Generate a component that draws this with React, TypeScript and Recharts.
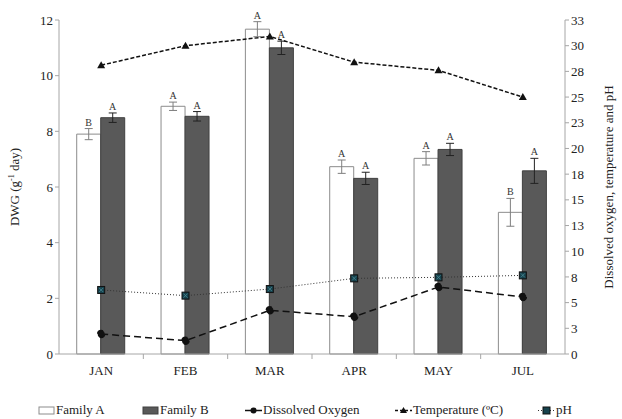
import React from 'react'
import {
  ComposedChart,
  Bar,
  Line,
  XAxis,
  YAxis,
  ErrorBar,
  LabelList,
} from 'recharts'

const months = ['JAN', 'FEB', 'MAR', 'APR', 'MAY', 'JUL']
const familyA = [7.9, 8.9, 11.67, 6.73, 7.03, 5.09]
const familyAErr = [0.2, 0.15, 0.27, 0.24, 0.24, 0.5]
const familyALetters = ['B', 'A', 'A', 'A', 'A', 'B']
const familyB = [8.49, 8.54, 11.0, 6.31, 7.35, 6.58]
const familyBErr = [0.17, 0.17, 0.24, 0.22, 0.22, 0.45]
const familyBLetters = ['A', 'A', 'A', 'A', 'A', 'A']
const dissolvedOxygen = [1.95, 1.3, 4.25, 3.63, 6.52, 5.55]
const temperature = [28.1, 30.0, 30.9, 28.4, 27.6, 25.0]
const ph = [6.23, 5.68, 6.32, 7.36, 7.46, 7.65]

const leftTicks = [0, 2, 4, 6, 8, 10, 12]
const rightTicks = [0, 2.5, 5, 7.5, 10, 12.5, 15, 17.5, 20, 22.5, 25, 27.5, 30, 32.5]

const data = months.map((m, i) => ({
  month: m,
  a: familyA[i],
  aErr: familyAErr[i],
  aLetter: familyALetters[i],
  b: familyB[i],
  bErr: familyBErr[i],
  bLetter: familyBLetters[i],
  oxygen: dissolvedOxygen[i],
  temp: temperature[i],
  ph: ph[i],
}))

const FONT = 'Liberation Serif, Times New Roman, Tinos, DejaVu Serif, serif'
const AXIS = '#a6a6a6'
const W = 622
const H = 419
const M = { top: 20, right: 0, left: 0, bottom: 35 }
const LEFT_W = 59
const RIGHT_W = 57
const band = (W - LEFT_W - RIGHT_W) / months.length

function XTick(props: any) {
  const { x, y, payload, index } = props
  return (
    <g>
      {index < months.length - 1 && (
        <line x1={x + band / 2} x2={x + band / 2} y1={y - 8} y2={y - 3} stroke={AXIS} />
      )}
      <text x={x} y={y + 13} textAnchor="middle" fontFamily={FONT} fontSize={13} fill="#222">
        {payload.value}
      </text>
    </g>
  )
}

function letterLabel(errors: number[], values: number[]) {
  return (props: any) => {
    const { x, y, width, height, value, index } = props
    const perUnit = height / values[index]
    const top = y - errors[index] * perUnit
    return (
      <text x={x + width / 2} y={top - 3} textAnchor="middle" fontFamily={FONT} fontSize={10} fill="#333">
        {value}
      </text>
    )
  }
}

function Triangle(props: any) {
  const { cx, cy } = props
  return <polygon points={`${cx},${cy - 4} ${cx - 4},${cy + 3} ${cx + 4},${cy + 3}`} fill="#111" />
}

function Square(props: any) {
  const { cx, cy } = props
  return (
    <g>
      <rect x={cx - 3.5} y={cy - 3.5} width={7} height={7} fill="#17424d" stroke="#111" strokeWidth={1} />
      <path d={`M${cx - 2},${cy - 2}L${cx + 2},${cy + 2}M${cx + 2},${cy - 2}L${cx - 2},${cy + 2}`} stroke="#4a8a95" strokeWidth={0.8} />
    </g>
  )
}

function LegendItem({ left, icon, label }: { left: number; icon: React.ReactNode; label: React.ReactNode }) {
  return (
    <div style={{ position: 'absolute', left, top: 402, display: 'flex', alignItems: 'center', whiteSpace: 'nowrap', fontFamily: FONT, fontSize: 13, color: '#222' }}>
      <svg width={17} height={12} style={{ marginRight: 1 }}>{icon}</svg>
      <span>{label}</span>
    </div>
  )
}

export default function App() {
  return (
    <div style={{ position: 'absolute', left: 0, top: 0, width: W, height: H, background: '#fff', fontFamily: FONT }}>
      <ComposedChart width={W} height={H} data={data} margin={M} barGap={0} barCategoryGap="21%">
        <XAxis
          dataKey="month"
          height={30}
          stroke={AXIS}
          tickLine={false}
          tick={<XTick />}
          interval={0}
        />
        <YAxis
          yAxisId="left"
          width={LEFT_W}
          domain={[0, 12]}
          ticks={leftTicks}
          stroke={AXIS}
          tickSize={4}
          tick={{ fontFamily: FONT, fontSize: 13, fill: '#222' }}
        />
        <YAxis
          yAxisId="right"
          orientation="right"
          width={RIGHT_W}
          domain={[0, 32.5]}
          ticks={rightTicks}
          stroke={AXIS}
          tickSize={4}
          tickFormatter={(v: number) => String(Math.round(v))}
          tick={{ fontFamily: FONT, fontSize: 13, fill: '#222' }}
        />
        <Bar yAxisId="left" dataKey="a" fill="#ffffff" stroke="#8c8c8c" strokeWidth={1} isAnimationActive={false}>
          <ErrorBar dataKey="aErr" width={4} stroke="#7f7f7f" strokeWidth={1} direction="y" />
          <LabelList dataKey="aLetter" content={letterLabel(familyAErr, familyA)} />
        </Bar>
        <Bar yAxisId="left" dataKey="b" fill="#595959" stroke="#404040" strokeWidth={1} isAnimationActive={false}>
          <ErrorBar dataKey="bErr" width={4} stroke="#222" strokeWidth={1} direction="y" />
          <LabelList dataKey="bLetter" content={letterLabel(familyBErr, familyB)} />
        </Bar>
        <Line
          yAxisId="right"
          dataKey="oxygen"
          stroke="#111"
          strokeWidth={1.5}
          strokeDasharray="7 4"
          dot={{ r: 3.5, fill: '#111', stroke: '#111' }}
          isAnimationActive={false}
        />
        <Line
          yAxisId="right"
          dataKey="temp"
          stroke="#111"
          strokeWidth={1.5}
          strokeDasharray="4 2"
          dot={<Triangle />}
          isAnimationActive={false}
        />
        <Line
          yAxisId="right"
          dataKey="ph"
          stroke="#333"
          strokeWidth={1}
          strokeDasharray="1 2"
          dot={<Square />}
          isAnimationActive={false}
        />
      </ComposedChart>
      <svg width={W} height={H} style={{ position: 'absolute', left: 0, top: 0, pointerEvents: 'none' }}>
        <text transform="translate(19,187) rotate(-90)" textAnchor="middle" fontFamily={FONT} fontSize={13} fill="#222">
          DWG (g<tspan dy={-5} fontSize={8}>-1</tspan><tspan dy={5}> day)</tspan>
        </text>
        <text transform="translate(613,187) rotate(-90)" textAnchor="middle" fontFamily={FONT} fontSize={13} fill="#222">
          Dissolved oxygen, temperature and pH
        </text>
      </svg>
      <LegendItem left={38} icon={<rect x={1} y={3} width={15} height={7} fill="#fff" stroke="#8c8c8c" />} label="Family A" />
      <LegendItem left={142} icon={<rect x={1} y={3} width={15} height={7} fill="#595959" stroke="#404040" />} label="Family B" />
      <LegendItem
        left={245}
        icon={<g><line x1={0} x2={17} y1={6.5} y2={6.5} stroke="#111" strokeWidth={1.5} /><circle cx={8.5} cy={6.5} r={3} fill="#111" /></g>}
        label="Dissolved Oxygen"
      />
      <LegendItem
        left={395}
        icon={<g><line x1={0} x2={17} y1={6.5} y2={6.5} stroke="#111" strokeWidth={1.5} strokeDasharray="3 2" /><polygon points="8.5,3 5,9 12,9" fill="#111" /></g>}
        label="Temperature (ºC)"
      />
      <LegendItem
        left={538}
        icon={<g><line x1={0} x2={17} y1={6.5} y2={6.5} stroke="#333" strokeDasharray="1 2" /><rect x={5} y={3} width={7} height={7} fill="#17424d" stroke="#111" /></g>}
        label="pH"
      />
    </div>
  )
}
